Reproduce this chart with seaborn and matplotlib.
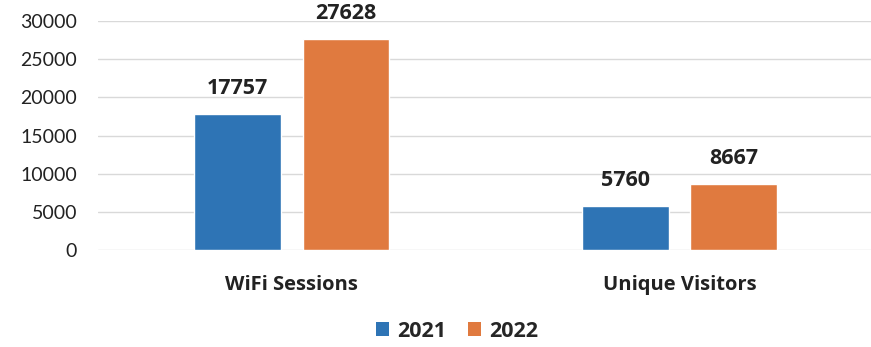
import matplotlib
matplotlib.use("Agg")
import matplotlib.pyplot as plt
import seaborn as sns
import pandas as pd
from matplotlib.patches import Patch

categories = ["WiFi Sessions", "Unique Visitors"]
years = ["2021", "2022"]
values_2021 = [17757, 5760]
values_2022 = [27628, 8667]
y_ticks = [0, 5000, 10000, 15000, 20000, 25000, 30000]

df = pd.DataFrame({
    "category": categories * 2,
    "year": [years[0]] * 2 + [years[1]] * 2,
    "value": values_2021 + values_2022,
})

sns.set_theme(style="white")
plt.rcParams["font.family"] = ["Lato", "DejaVu Sans"]
BOLD = ["Open Sans", "DejaVu Sans"]

colors = {"2021": "#2E74B5", "2022": "#E07A3F"}

fig = plt.figure(figsize=(8.71, 3.47), dpi=100)
ax = fig.add_axes([0.1125, 0.2795, 0.89, 0.66])
sns.barplot(data=df, x="category", y="value", hue="year", palette=colors,
            width=0.56, gap=0.2, ax=ax, legend=False, saturation=1)

ax.set_xlim(-0.5, 1.5)
ax.set_ylim(0, 30000)
ax.set_yticks(y_ticks)
ax.set_yticklabels([str(t) for t in y_ticks], fontsize=14, color="#222222")
ax.yaxis.grid(True, color="#d9d9d9", linewidth=1)
ax.set_axisbelow(True)
for s in ax.spines.values():
    s.set_visible(False)
ax.tick_params(axis="y", length=0, pad=15)
ax.tick_params(axis="x", length=0, pad=18)
for lbl in ax.get_xticklabels():
    lbl.set_fontweight("bold")
    lbl.set_fontsize(14.5)
    lbl.set_family(BOLD)
    lbl.set_color("#222222")
ax.set_xlabel("")
ax.set_ylabel("")

for cont in ax.containers:
    ax.bar_label(cont, labels=[f"{int(v)}" for v in cont.datavalues],
                 padding=11, fontsize=15.5, fontweight="bold", color="#222222",
                 family=BOLD, clip_on=False)

handles = [Patch(facecolor=colors[y], edgecolor="none") for y in years]
fig.legend(handles, years, loc="lower center", bbox_to_anchor=(0.525, -0.04),
           ncol=2, frameon=False,
           prop={"weight": "bold", "size": 15.5, "family": BOLD},
           handlelength=0.6, handleheight=0.6, handletextpad=0.4,
           columnspacing=1.0)

fig.savefig("out.png", dpi=100, facecolor="white")
